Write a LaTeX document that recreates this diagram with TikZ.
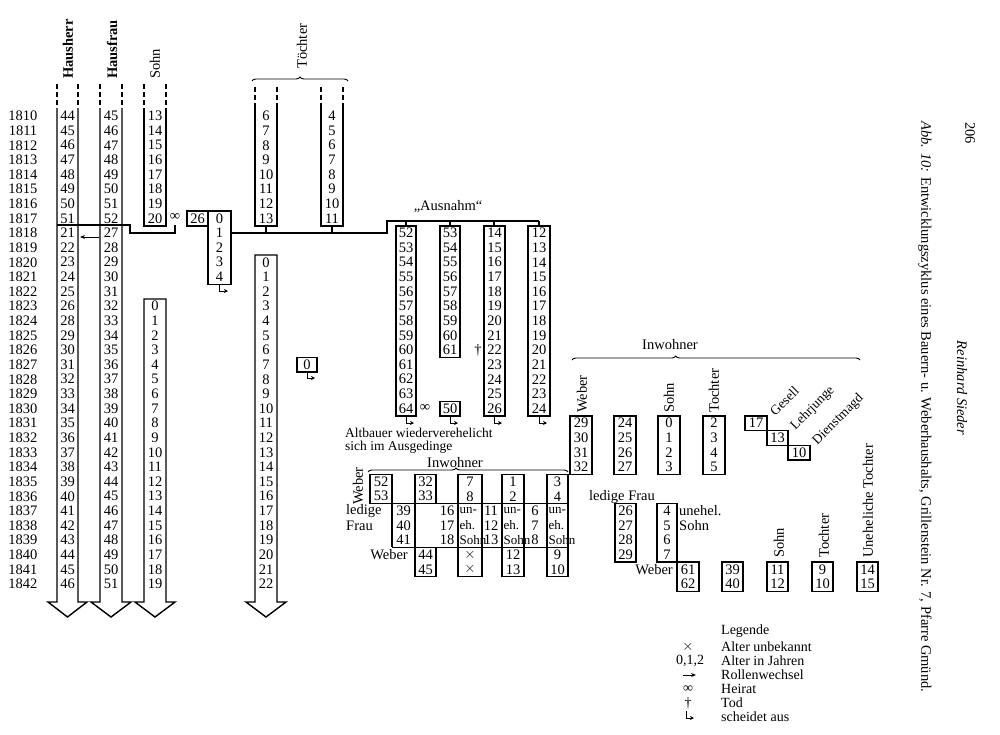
\documentclass[tikz,border=0pt]{standalone}
\usepackage{fontspec}
\setmainfont{Liberation Serif}
\usepackage{tikz}
\usetikzlibrary{arrows.meta,decorations.pathreplacing}

% pixel row of a year
\newcommand{\Y}[1]{(116+((#1)-1810)*14.625)}

\begin{document}
\begin{tikzpicture}[
  x=1pt, y=-1pt,
  every node/.style={font=\fontsize{14.5}{16}\selectfont, inner sep=0pt},
  col/.style={line width=1.4pt},
  dashcol/.style={line width=1.4pt, dash pattern=on 5pt off 3pt},
  outhook/.style={line width=1pt, -{Stealth[length=4pt, width=4pt]}},
  role/.style={line width=0.9pt, -{Stealth[length=5pt, width=4pt]}},
  vlabel/.style={rotate=90, anchor=west},
  dlabel/.style={rotate=45, anchor=west, font=\fontsize{13.5}{15}\selectfont},
  small/.style={font=\fontsize{13}{14}\selectfont},
  leg/.style={font=\fontsize{14}{15}\selectfont},
  grpbrace/.style={decorate, decoration={brace, amplitude=4pt, aspect=#1}, line width=0.9pt},
  grpbrace/.default=0.5
]
\useasboundingbox (0,0) rectangle (1000,734);

% years
\foreach \yr in {1810,...,1842}
  \node (yr\yr) at (23,{\Y{\yr}}) {\yr};

% Hausherr
\node[vlabel, font=\fontsize{14.5}{16}\selectfont\bfseries] (hausherr) at (68,79) {Hausherr};
\draw[dashcol] (57,84) -- (57,108) (78,84) -- (78,108);
\draw[col] (57,108) -- (57,602) -- (48,602) -- (67.5,617) -- (87,602) -- (78,602) -- (78,108);
\foreach \n in {44,...,51} \node (hha\n) at (67.5,{\Y{\n+1766}}) {\n};
\foreach \n in {21,...,26} \node (hhb\n) at (67.5,{\Y{\n+1797}}) {\n};
\foreach \n in {28,...,46} \node (hhb\n) at (67.5,{\Y{\n+1796}}) {\n};

% Hausfrau
\node[vlabel, font=\fontsize{14.5}{16}\selectfont\bfseries] (hausfrau) at (112,79) {Hausfrau};
\draw[dashcol] (100,84) -- (100,108) (122,84) -- (122,108);
\draw[col] (100,108) -- (100,602) -- (91,602) -- (111,617) -- (131,602) -- (122,602) -- (122,108);
\foreach \n in {45,...,52} \node (hfa\n) at (111,{\Y{\n+1765}}) {\n};
\foreach \n in {27,...,51} \node (hfb\n) at (111,{\Y{\n+1791}}) {\n};

% Sohn
\node[vlabel] (sohn) at (155,79) {Sohn};
\draw[dashcol] (144,84) -- (144,108) (166,84) -- (166,108);
\draw[col] (144,108) |- (166,226) -- (166,108);
\foreach \n in {13,...,20} \node (soa\n) at (155,{\Y{\n+1797}}) {\n};
\draw[col] (144,299) -- (144,602) -- (135,602) -- (155,617) -- (175,602) -- (166,602) -- (166,299) -- cycle;
\foreach \n in {0,...,19} \node (sob\n) at (155,{\Y{\n+1823}}) {\n};

% Toechter
\node[vlabel] (toechter) at (302,69) {Töchter};
\draw[grpbrace] (252,81) -- (348,81);
\draw[dashcol] (255,87) -- (255,108) (277,87) -- (277,108) (321,87) -- (321,108) (343,87) -- (343,108);
\draw[col] (255,108) |- (277,226) -- (277,108);
\draw[col] (321,108) |- (343,226) -- (343,108);
\foreach \n in {6,...,13} \node (ta\n) at (266,{\Y{\n+1804}}) {\n};
\foreach \n in {4,...,11} \node (tb\n) at (332,{\Y{\n+1806}}) {\n};
\draw[col] (255,255) -- (255,602) -- (246,602) -- (266,617) -- (286,602) -- (277,602) -- (277,255) -- cycle;
\foreach \n in {0,...,22} \node (tc\n) at (266,{\Y{\n+1820}}) {\n};

% handing over in 1818
\draw[col] (57,225) -- (130,225) -- (130,233) -- (175,233) -- (175,225);
\node (heirat1) at (175,217) {∞};
\draw[role] (99,237) -- (80,237);
\draw[col] (187,211) rectangle (208,226);
\node (braut) at (197.5,{\Y{1817}}) {26};
\draw[col] (208,211) rectangle (231,284.6);
\foreach \n in {0,...,4} \node (kd\n) at (219.5,{\Y{\n+1817}}) {\n};
\draw[outhook] (219,284.6) |- (228,291);
\draw[col] (297,357.3) rectangle (317,371.9);
\node (kd27) at (307,{\Y{1827}}) {0};
\draw[outhook] (307,371.9) |- (315,378);
\draw[col] (231,233) -- (387,233) -- (387,221) -- (539,221);
\foreach \x in {266,332} \draw[col] (\x,226) -- (\x,233);
\foreach \x in {406,450,494,539} \draw[col] (\x,221) -- (\x,226);

% Ausnahm
\node (ausnahm) at (448,207) {„Ausnahm“};
\draw[col] (396,226) rectangle (416,416);
\foreach \n in {52,...,64} \node (ala\n) at (406,{\Y{\n+1766}}) {\n};
\draw[col] (440,226) rectangle (460,357.3);
\foreach \n in {53,...,61} \node (alb\n) at (450,{\Y{\n+1765}}) {\n};
\node (tod) at (478,{\Y{1826}}) {†};
\draw[col] (484,226) rectangle (505,416);
\foreach \n in {14,...,26} \node (alc\n) at (494.5,{\Y{\n+1804}}) {\n};
\draw[col] (528,226) rectangle (550,416);
\foreach \n in {12,...,24} \node (ald\n) at (539,{\Y{\n+1806}}) {\n};
\node (heirat2) at (425,{\Y{1830}}) {∞};
\draw[col] (440,401.2) rectangle (460,416);
\node (alf) at (450,{\Y{1830}}) {50};
\foreach \x in {406,450,494,539} \draw[outhook] (\x,416) |- (\x+8,423);
\node[anchor=north west, align=left, font=\fontsize{13.5}{13}\selectfont] (altbauer) at (345,428) {Altbauer wiederverehelicht\\sich im Ausgedinge};

% Inwohner 1835-1841
\node (inw2) at (455,463) {Inwohner};
\draw[grpbrace=0.44] (368,472) -- (568,472);
\node[vlabel] (weber2) at (358,505) {Weber};
\draw[col] (370,474.3) rectangle (392,503.6);
\draw[col] (392,474.3) -- (392,547.4);
\draw[col] (392,503.6) -- (568,503.6) (392,547.4) -- (568,547.4);
\draw[col] (415,474.3) rectangle (436,503.6) (415,547.4) rectangle (436,576.7) (415,503.6) -- (415,547.4);
\foreach \xa/\xb in {458/482, 502/524, 547/568}
  \draw[col] (\xa,474.3) rectangle (\xb,576.7);
\node (w52) at (381,{\Y{1835}}) {52};
\node (w53) at (381,{\Y{1836}}) {53};
\node (w32) at (425.5,{\Y{1835}}) {32};
\node (w33) at (425.5,{\Y{1836}}) {33};
\node (w7) at (470,{\Y{1835}}) {7};
\node (w8) at (470,{\Y{1836}}) {8};
\node (w1) at (513,{\Y{1835}}) {1};
\node (w2) at (513,{\Y{1836}}) {2};
\node (w3) at (557.5,{\Y{1835}}) {3};
\node (w4) at (557.5,{\Y{1836}}) {4};
\node[anchor=west] (ledige) at (346,{\Y{1837}}) {ledige};
\node[anchor=west] (frau) at (346,{\Y{1838}}) {Frau};
\foreach \n in {39,40,41} \node (lf\n) at (403.5,{\Y{\n+1798}}) {\n};
\foreach \n in {16,17,18} \node (ua\n) at (447,{\Y{\n+1821}}) {\n};
\foreach \n in {11,12,13} \node (ub\n) at (491,{\Y{\n+1826}}) {\n};
\foreach \n in {6,7,8} \node (uc\n) at (535,{\Y{\n+1831}}) {\n};
\foreach \x/\k in {459.5/a, 503.5/b, 548.5/c} {
  \node[small, anchor=west] (un\k) at (\x,{\Y{1837}}) {un-};
  \node[small, anchor=west] (eh\k) at (\x,{\Y{1838}}) {eh.};
  \node[small, anchor=west] (so\k) at (\x,{\Y{1839}}) {Sohn};
}
\node[anchor=east] (weber3) at (408,{\Y{1840}}) {Weber};
\node (w44) at (425.5,{\Y{1840}}) {44};
\node (w45) at (425.5,{\Y{1841}}) {45};
\node (wxa) at (470,{\Y{1840}}) {$\times$};
\node (wxb) at (470,{\Y{1841}}) {$\times$};
\node (w12) at (513,{\Y{1840}}) {12};
\node (w13) at (513,{\Y{1841}}) {13};
\node (w9) at (557.5,{\Y{1840}}) {9};
\node (w10) at (557.5,{\Y{1841}}) {10};

% Inwohner 1831-1834
\node (inw1) at (670,345) {Inwohner};
\draw[grpbrace=0.36] (572,360) -- (860,360);
\node[vlabel] (weber1) at (582,413) {Weber};
\draw[col] (570,416) rectangle (592,474.3);
\foreach \n in {29,...,32} \node (ia\n) at (581,{\Y{\n+1802}}) {\n};
\draw[col] (614,416) rectangle (636,474.3);
\foreach \n in {24,...,27} \node (ib\n) at (625,{\Y{\n+1807}}) {\n};
\node[vlabel] (sohn1) at (669,413) {Sohn};
\draw[col] (658,416) rectangle (680,474.3);
\foreach \n in {0,...,3} \node (ic\n) at (669,{\Y{\n+1831}}) {\n};
\node[vlabel] (tochter1) at (714,413) {Tochter};
\draw[col] (703,416) rectangle (725,474.3);
\foreach \n in {2,...,5} \node (id\n) at (714,{\Y{\n+1829}}) {\n};
\draw[col] (745,416) rectangle (767,430.6) (767,430.6) rectangle (788,445.2) (788,445.2) rectangle (810,459.9);
\node (ge17) at (756,{\Y{1831}}) {17};
\node (lj13) at (777.5,{\Y{1832}}) {13};
\node (dm10) at (799,{\Y{1833}}) {10};
\node[dlabel] (gesell) at (772,413) {Gesell};
\node[dlabel] (lehrjunge) at (793,428) {Lehrjunge};
\node[dlabel] (dienstmagd) at (815,443) {Dienstmagd};

% 1837-1842
\node[anchor=west] (ledfrau) at (589,497) {ledige Frau};
\draw[col] (615,503.6) rectangle (636,562.1);
\foreach \n in {26,...,29} \node (ra\n) at (625.5,{\Y{\n+1811}}) {\n};
\draw[col] (657,503.6) rectangle (677,562.1);
\foreach \n in {4,...,7} \node (rb\n) at (667,{\Y{\n+1833}}) {\n};
\node[anchor=west] (unehel) at (679,{\Y{1837}}) {unehel.};
\node[anchor=west] (unsohn) at (679,{\Y{1838}}) {Sohn};
\node[anchor=east] (weber4) at (673,{\Y{1841}}) {Weber};
\foreach \xa/\xb/\na/\nb/\k in {677/699/61/62/a, 722/743/39/40/b, 767/788/11/12/c, 812/833/9/10/d, 857/878/14/15/e} {
  \draw[col] (\xa,562.1) rectangle (\xb,591.3);
  \node (rc\k) at ({(\xa+\xb)/2},{\Y{1841}}) {\na};
  \node (rd\k) at ({(\xa+\xb)/2},{\Y{1842}}) {\nb};
}
\node[vlabel] (sohn2) at (779,558) {Sohn};
\node[vlabel] (tochter2) at (824,558) {Tochter};
\node[vlabel] (untochter) at (868,558) {Uneheliche Tochter};

% Legende
\node[leg, anchor=west] (legende) at (721,631) {Legende};
\node[leg] (lx) at (688,647) {$\times$};
\node[leg, anchor=west] (lxt) at (721,647) {Alter unbekannt};
\node[leg] (lzahl) at (690,661) {0,1,2};
\node[leg, anchor=west] (lzahlt) at (721,661) {Alter in Jahren};
\coordinate (lra) at (683,675);
\coordinate (lrb) at (696,675);
\draw[role] (lra) -- (lrb);
\node[leg, anchor=west] (lrt) at (721,675) {Rollenwechsel};
\node[leg] (lh) at (688,689) {∞};
\node[leg, anchor=west] (lht) at (721,689) {Heirat};
\node[leg] (ld) at (688,703) {†};
\node[leg, anchor=west] (ldt) at (721,703) {Tod};
\draw[outhook] (686,711) |- (694,718);
\node[leg, anchor=west] (lst) at (721,717) {scheidet aus};

% page margin
\node[rotate=-90] (seite) at (970,133) {206};
\node[rotate=-90, font=\fontsize{14.5}{16}\selectfont\itshape] (autor) at (962,388) {Reinhard Sieder};
\node[rotate=-90, anchor=west] (titel) at (925,121) {\textit{Abb. 10:} Entwicklungszyklus eines Bauern- u. Weberhaushalts, Grillenstein Nr. 7, Pfarre Gmünd.};
\end{tikzpicture}
\end{document}
